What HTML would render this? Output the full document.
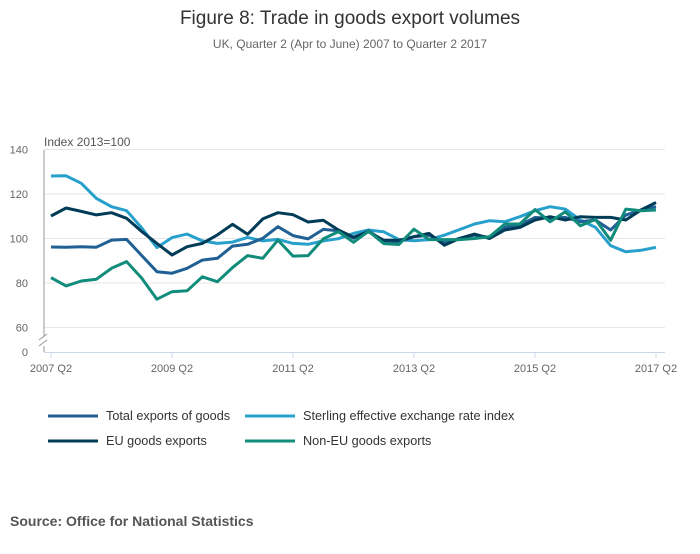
<!DOCTYPE html>
<html><head><meta charset="utf-8">
<style>
body{margin:0;background:#fff;font-family:"Liberation Sans",sans-serif;}
svg text{font-family:"Liberation Sans",sans-serif;}
</style></head>
<body>
<svg id="chart" width="700" height="549" viewBox="0 0 700 549">
<text x="350" y="24" text-anchor="middle" font-size="19" fill="#333">Figure 8: Trade in goods export volumes</text>
<text x="350" y="48" text-anchor="middle" font-size="12" fill="#666">UK, Quarter 2 (Apr to June) 2007 to Quarter 2 2017</text>
<text x="44" y="146" font-size="12" fill="#555">Index 2013=100</text>
<g id="grid"></g>
<g id="axes"></g>
<g id="series"></g>
<g id="legend"></g>
<text x="10" y="526" font-size="14" font-weight="bold" fill="#555">Source: Office for National Statistics</text>
</svg>
<script>
const yTicks=[60,80,100,120,140];
const xTickLabels=["2007 Q2","2009 Q2","2011 Q2","2013 Q2","2015 Q2","2017 Q2"];
const xTickIndex=[0,8,16,24,32,40];
const seriesNames=["Total exports of goods","Sterling effective exchange rate index","EU goods exports","Non-EU goods exports"];
const totalExports=[96.2,96.1,96.3,96.1,99.3,99.6,92.3,85.1,84.4,86.6,90.3,91.1,96.6,97.4,100.1,105.3,101.3,99.8,104.1,103.5,100.1,103.5,98.5,98.5,100.8,101.5,98,100,101.5,100.5,105,106,109.5,109,109.5,107.5,108.3,103.8,110.5,112.8,114.3];
const sterling=[128.1,128.2,124.8,118,114.3,112.5,104.7,95.9,100.4,102,98.9,97.8,98.4,100.5,98.9,99.6,97.8,97.4,98.9,99.9,102.3,103.8,103,99.5,99,99.5,101.5,104,106.5,108,107.5,109.8,112.5,114.3,113.2,108.3,105,96.8,94,94.7,96];
const euExports=[110.1,113.7,112.2,110.6,111.6,109.1,103.1,97.8,92.6,96.3,97.8,101.6,106.4,101.9,108.8,111.6,110.7,107.4,108.2,103.8,100.6,103,99.2,99.2,100.8,102.3,97,100,102,100,103.8,105,108.3,109.8,108.3,109.8,109.5,109.5,108.3,112.8,116.2];
const nonEuExports=[82.4,78.7,80.9,81.7,86.6,89.6,82.1,72.7,76.1,76.5,82.8,80.6,86.9,92.3,91.1,99.3,92.1,92.3,99.8,103.1,98.3,103.3,97.7,97.3,104.2,99.5,99.5,99.5,100,100.8,106.5,106.5,113,107.5,112,105.7,108.6,99.2,113.2,112.5,112.8];
const colors=["#206095","#27a0cc","#003c57","#118c7b"];
const NS="http://www.w3.org/2000/svg";
const x0=51,x1=656,n=40;
function xs(i){return x0+(x1-x0)*i/n;}
function ys(v){return 238.5-(v-100)*2.225;}
function mk(tag,attrs,parent){const e=document.createElementNS(NS,tag);for(const k in attrs)e.setAttribute(k,attrs[k]);parent.appendChild(e);return e;}
const grid=document.getElementById('grid'),axes=document.getElementById('axes'),ser=document.getElementById('series'),leg=document.getElementById('legend');
yTicks.forEach(t=>{
 const l=mk('line',{x1:44,x2:665,y1:ys(t),y2:ys(t),stroke:'#e6e6e6','stroke-width':1},grid);
 
 
 const tx=mk('text',{x:28,y:ys(t)+4,'text-anchor':'end','font-size':11,fill:'#666'},axes);
 tx.textContent=t;
 
 
});
const zl=mk('text',{x:28,y:356,'text-anchor':'end','font-size':11,fill:'#666'},axes);zl.textContent='0';


const ya=mk('path',{d:'M44,150 V336 M44,346 V352',stroke:'#999','stroke-width':1,fill:'none'},axes);


const br=mk('path',{d:'M39,340 L47,334 M39,346 L47,340',stroke:'#999','stroke-width':1,fill:'none'},axes);


const xa=mk('line',{x1:44,x2:665,y1:352.5,y2:352.5,stroke:'#ccd6eb','stroke-width':1},axes);


xTickLabels.forEach((lab,k)=>{
 const x=xs(xTickIndex[k]);
 const tk=mk('line',{x1:x,x2:x,y1:352,y2:358,stroke:'#ccd6eb'},axes);
 
 
 const t=mk('text',{x:x,y:372,'text-anchor':'middle','font-size':11,fill:'#666'},axes);t.textContent=lab;
 
 
});
const allSeries=[totalExports,sterling,euExports,nonEuExports];
const order=[1,0,2,3];
order.forEach(s=>{
 const d=allSeries[s].map((v,i)=>(i?'L':'M')+xs(i).toFixed(1)+','+ys(v).toFixed(1)).join(' ');
 const p=mk('path',{d:d,stroke:colors[s],'stroke-width':3,fill:'none','stroke-linejoin':'round'},ser);
 
 
});
const lpos=[[48,416],[245,416],[48,441],[245,441]];
seriesNames.forEach((nm,s)=>{
 const [lx,ly]=lpos[s];
 const g=mk('g',{},leg);
 
 
 mk('line',{x1:lx,x2:lx+50,y1:ly,y2:ly,stroke:colors[s],'stroke-width':3},g);
 const t=mk('text',{x:lx+58,y:ly+4,'font-size':12.7,fill:'#333'},g);t.textContent=nm;
});
</script>
</body></html>
